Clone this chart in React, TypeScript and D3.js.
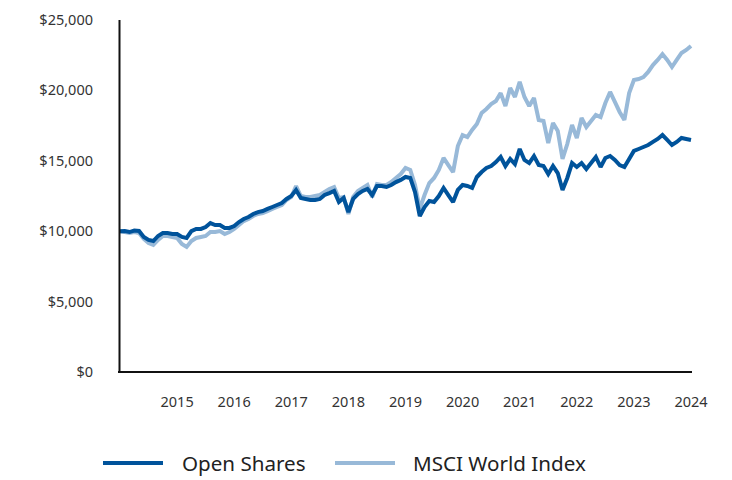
import React from "react";
import * as d3 from "d3";

const startYear = 2014;
const yearTicks = [2015, 2016, 2017, 2018, 2019, 2020, 2021, 2022, 2023, 2024];
const valueTicks = [0, 5000, 10000, 15000, 20000, 25000];

const openShares = [
  10000, 10010, 9940, 10050, 10020, 9590, 9380, 9300, 9660, 9870, 9870, 9800,
  9800, 9590, 9520, 10010, 10160, 10160, 10300, 10580, 10440, 10440, 10230, 10230,
  10370, 10650, 10870, 11010, 11220, 11360, 11430, 11580, 11720, 11860, 12000, 12290,
  12500, 12930, 12360, 12290, 12220, 12220, 12290, 12570, 12710, 12860, 12070, 12360,
  11360, 12290, 12640, 12860, 13000, 12570, 13210, 13210, 13140, 13280, 13490, 13640,
  13850, 13780, 12780, 11080, 11720, 12140, 12070, 12500, 13070, 12570, 12070, 12930,
  13280, 13210, 13070, 13850, 14200, 14490, 14630, 14910, 15270, 14630, 15130, 14770,
  15840, 15060, 14840, 15340, 14700, 14630, 14060, 14630, 14130, 12930, 13780, 14840,
  14560, 14840, 14420, 14840, 15270, 14560, 15200, 15340, 15060, 14700, 14560, 15130,
  15700, 15840, 15980, 16120, 16340, 16550, 16830, 16480, 16120, 16340, 16620, 16550,
  16480,
];

const msciWorld = [
  10000, 9940, 9870, 9940, 9870, 9450, 9160, 9020, 9380, 9660, 9660, 9590,
  9520, 9090, 8880, 9300, 9520, 9590, 9660, 9940, 9940, 10010, 9800, 9940,
  10160, 10440, 10720, 10870, 11080, 11220, 11290, 11430, 11580, 11720, 11860, 12220,
  12430, 13210, 12500, 12430, 12430, 12500, 12570, 12780, 13000, 13140, 12360, 12430,
  11220, 12430, 12860, 13070, 13280, 12430, 13350, 13280, 13280, 13490, 13780, 14060,
  14490, 14350, 13280, 11580, 12570, 13420, 13780, 14350, 15200, 14700, 14200, 16050,
  16830, 16690, 17190, 17610, 18390, 18680, 19030, 19250, 19810, 18890, 20170, 19530,
  20600, 19530, 18890, 19460, 17900, 17830, 16260, 17680, 17120, 15130, 16190, 17540,
  16620, 18040, 17400, 17830, 18250, 18110, 19100, 19890, 19180, 18470, 17900, 19810,
  20740, 20810, 20950, 21310, 21800, 22160, 22580, 22160, 21660, 22160, 22660, 22870,
  23150,
];

const seriesNames = ["Open Shares", "MSCI World Index"];
const seriesColors = ["#00539b", "#98b9d8"];

const W = 732;
const H = 480;
const FONT = "'Noto Sans', 'Open Sans', sans-serif";

export default function App() {
  const x = d3.scaleLinear().domain([2014, 2024]).range([120, 691]);
  const y = d3.scaleLinear().domain([0, 25000]).range([372, 20]);

  const line = d3
    .line<number>()
    .x((_, i) => x(startYear + i / 12))
    .y((d) => y(d))
    .curve(d3.curveLinear);

  return (
    <svg
      width={W}
      height={H}
      style={{ position: "absolute", left: 0, top: 0, background: "#fff" }}
      fontFamily={FONT}
    >
      <rect x={0} y={0} width={W} height={H} fill="#fff" />
      {valueTicks.map((v) => (
        <text
          key={v}
          x={93}
          y={y(v) + 5}
          textAnchor="end"
          fontSize={14.5}
          fill="#333"
        >
          {"$" + d3.format(",")(v)}
        </text>
      ))}
      {yearTicks.map((yr) => (
        <text
          key={yr}
          x={x(yr)}
          y={407}
          textAnchor="middle"
          fontSize={14.5}
          fill="#333"
        >
          {yr}
        </text>
      ))}
      <path
        d={line(msciWorld) || ""}
        fill="none"
        stroke={seriesColors[1]}
        strokeWidth={4}
        strokeLinejoin="miter"
        strokeMiterlimit={2}
      />
      <path
        d={line(openShares) || ""}
        fill="none"
        stroke={seriesColors[0]}
        strokeWidth={4}
        strokeLinejoin="miter"
        strokeMiterlimit={2}
      />
      <line x1={119.5} x2={119.5} y1={20} y2={372} stroke="#111" strokeWidth={2} />
      <line x1={118} x2={692} y1={372} y2={372} stroke="#111" strokeWidth={2} />

      <line x1={103} x2={163} y1={463} y2={463} stroke={seriesColors[0]} strokeWidth={4} />
      <text x={182} y={471} fontSize={20.6} fill="#222">
        {seriesNames[0]}
      </text>
      <line x1={335} x2={395} y1={463} y2={463} stroke={seriesColors[1]} strokeWidth={4} />
      <text x={413} y={471} fontSize={20.6} fill="#222">
        {seriesNames[1]}
      </text>
    </svg>
  );
}
